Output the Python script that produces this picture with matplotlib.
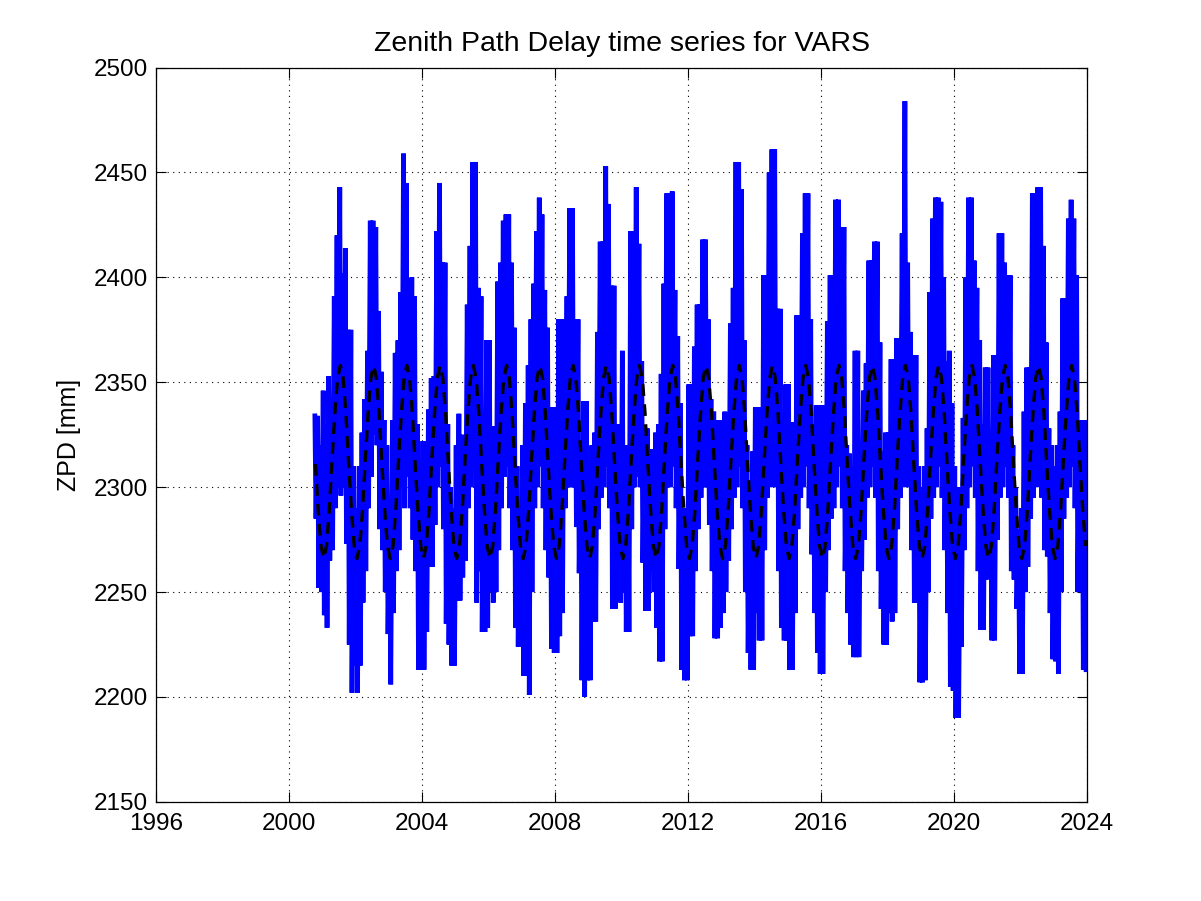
import numpy as np
import matplotlib
matplotlib.use('Agg')
import matplotlib.pyplot as plt

plt.rcParams['font.family'] = ['Liberation Sans', 'DejaVu Sans']

# monthly max / min of the daily ZPD series [mm]
# first row is 2000 (data starts in October)
years = list(range(2000, 2024))
first_month = 9

zpd_high = [
    [2334, 2334, 2320],
    [2346, 2330, 2353, 2342, 2391, 2420, 2443, 2402, 2414, 2375, 2375, 2310],
    [2290, 2310, 2326, 2342, 2365, 2427, 2427, 2424, 2384, 2355, 2332, 2320],
    [2290, 2332, 2364, 2370, 2393, 2459, 2445, 2390, 2400, 2391, 2330, 2300],
    [2322, 2322, 2337, 2352, 2353, 2422, 2445, 2407, 2407, 2330, 2300, 2290],
    [2320, 2335, 2325, 2320, 2387, 2415, 2455, 2455, 2395, 2391, 2332, 2370],
    [2370, 2329, 2329, 2398, 2407, 2427, 2430, 2430, 2407, 2376, 2310, 2290],
    [2320, 2340, 2358, 2380, 2397, 2422, 2438, 2430, 2394, 2376, 2338, 2338],
    [2338, 2380, 2380, 2380, 2391, 2433, 2433, 2380, 2380, 2320, 2341, 2341],
    [2300, 2320, 2326, 2374, 2417, 2417, 2453, 2435, 2396, 2396, 2330, 2330],
    [2365, 2320, 2319, 2422, 2422, 2443, 2416, 2360, 2328, 2328, 2318, 2318],
    [2326, 2330, 2354, 2397, 2440, 2440, 2441, 2394, 2372, 2340, 2290, 2285],
    [2349, 2349, 2367, 2387, 2387, 2418, 2418, 2380, 2342, 2336, 2332, 2332],
    [2300, 2336, 2330, 2378, 2395, 2455, 2455, 2442, 2370, 2320, 2300, 2317],
    [2338, 2338, 2338, 2401, 2401, 2450, 2461, 2461, 2385, 2385, 2314, 2349],
    [2349, 2331, 2331, 2382, 2382, 2421, 2440, 2440, 2380, 2330, 2339, 2339],
    [2339, 2339, 2379, 2401, 2401, 2437, 2437, 2424, 2424, 2320, 2316, 2310],
    [2365, 2365, 2305, 2346, 2359, 2408, 2408, 2417, 2417, 2369, 2317, 2326],
    [2326, 2361, 2361, 2371, 2371, 2421, 2484, 2407, 2374, 2363, 2363, 2310],
    [2300, 2310, 2328, 2393, 2428, 2438, 2438, 2436, 2400, 2360, 2365, 2340],
    [2310, 2300, 2300, 2333, 2400, 2438, 2438, 2408, 2395, 2370, 2330, 2357],
    [2357, 2300, 2363, 2363, 2421, 2421, 2407, 2401, 2401, 2320, 2300, 2280],
    [2290, 2336, 2357, 2357, 2440, 2440, 2443, 2443, 2415, 2369, 2328, 2320],
    [2310, 2320, 2336, 2390, 2390, 2428, 2437, 2428, 2401, 2332, 2332, 2332],
]

zpd_low = [
    [2285, 2252, 2250],
    [2239, 2233, 2265, 2270, 2290, 2300, 2296, 2300, 2273, 2225, 2202, 2215],
    [2202, 2215, 2245, 2260, 2290, 2305, 2325, 2320, 2280, 2270, 2250, 2230],
    [2206, 2240, 2260, 2270, 2300, 2290, 2305, 2290, 2275, 2260, 2213, 2213],
    [2213, 2231, 2262, 2262, 2282, 2300, 2310, 2280, 2235, 2225, 2215, 2215],
    [2246, 2246, 2257, 2265, 2290, 2300, 2310, 2245, 2260, 2231, 2231, 2233],
    [2250, 2245, 2250, 2270, 2290, 2305, 2310, 2290, 2270, 2233, 2224, 2224],
    [2210, 2210, 2201, 2250, 2290, 2300, 2310, 2290, 2270, 2257, 2223, 2221],
    [2221, 2229, 2240, 2290, 2300, 2300, 2300, 2281, 2259, 2208, 2200, 2208],
    [2208, 2236, 2236, 2280, 2295, 2300, 2310, 2290, 2242, 2242, 2250, 2245],
    [2250, 2231, 2231, 2280, 2300, 2305, 2300, 2264, 2241, 2241, 2260, 2250],
    [2233, 2217, 2217, 2280, 2300, 2300, 2310, 2290, 2261, 2213, 2208, 2208],
    [2229, 2229, 2260, 2280, 2295, 2300, 2300, 2282, 2260, 2228, 2228, 2233],
    [2240, 2250, 2265, 2280, 2295, 2300, 2310, 2290, 2250, 2221, 2213, 2213],
    [2240, 2227, 2227, 2270, 2295, 2300, 2310, 2300, 2260, 2233, 2227, 2227],
    [2213, 2213, 2240, 2280, 2295, 2300, 2310, 2290, 2268, 2240, 2221, 2211],
    [2211, 2250, 2270, 2285, 2290, 2300, 2310, 2290, 2260, 2240, 2225, 2219],
    [2219, 2219, 2260, 2275, 2295, 2300, 2310, 2295, 2260, 2242, 2225, 2225],
    [2240, 2236, 2240, 2280, 2295, 2300, 2310, 2300, 2270, 2245, 2245, 2207],
    [2207, 2208, 2250, 2285, 2295, 2300, 2310, 2295, 2270, 2240, 2205, 2203],
    [2190, 2190, 2224, 2270, 2290, 2300, 2310, 2295, 2260, 2232, 2232, 2256],
    [2260, 2227, 2227, 2275, 2295, 2300, 2310, 2295, 2260, 2256, 2242, 2211],
    [2211, 2250, 2262, 2285, 2295, 2300, 2310, 2295, 2270, 2267, 2240, 2218],
    [2217, 2211, 2250, 2285, 2295, 2300, 2310, 2290, 2250, 2250, 2213, 2213],
]

# seasonal model, one value per month (same every year)
model_month = [2266, 2272, 2289, 2313, 2335, 2352, 2358, 2352, 2335, 2311, 2289, 2272]

# build the series
t_data, z_data, t_model, z_model = [], [], [], []
for i, y in enumerate(years):
    m0 = first_month if i == 0 else 0
    for k, (h, l) in enumerate(zip(zpd_high[i], zpd_low[i])):
        m = m0 + k
        t_data += [y + (m + 0.3) / 12, y + (m + 0.7) / 12]
        z_data += [h, l]
        t_model.append(y + (m + 0.5) / 12)
        z_model.append(model_month[m])

fig = plt.figure(figsize=(12.01, 9.01), dpi=100)
ax = fig.add_axes([0.13, 0.11, 0.775, 0.815])

ax.plot(t_data, z_data, color='#0000ff', lw=3.4, solid_joinstyle='miter')
ax.plot(t_model, z_model, color='black', lw=2.4, linestyle=(0, (3.5, 2.5)))

ax.set_xlim(1996, 2024)
ax.set_ylim(2150, 2500)
ax.set_xticks(np.arange(1996, 2025, 4))
ax.set_yticks(np.arange(2150, 2501, 50))
ax.grid(True, color='black', linestyle=(0, (1, 4)), linewidth=0.8)
ax.tick_params(direction='in', top=True, right=True, length=7, labelsize=17.5)
ax.tick_params(axis='x', pad=8)
ax.tick_params(axis='y', pad=6)
for s in ax.spines.values():
    s.set_linewidth(0.9)

ax.set_title('Zenith Path Delay time series for VARS', fontsize=20.5, pad=12)
ax.set_ylabel('ZPD [mm]', fontsize=18)
ax.yaxis.set_label_coords(-0.081, 0.5)

fig.savefig('out.png', dpi=100, facecolor='white')
